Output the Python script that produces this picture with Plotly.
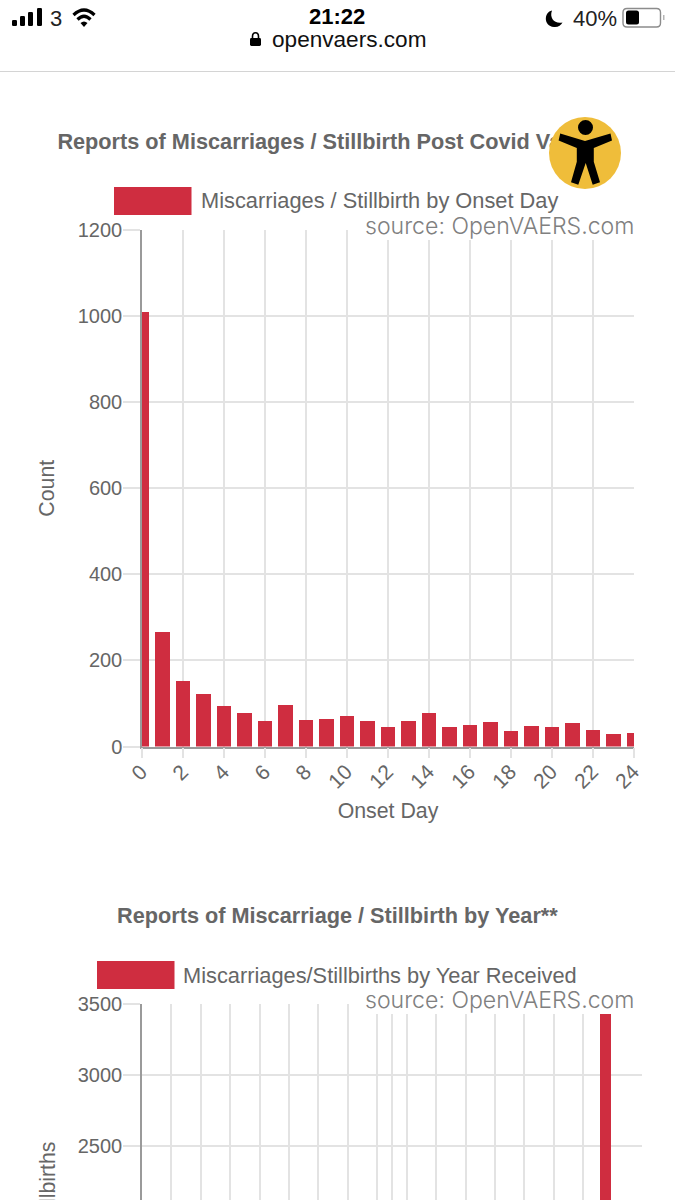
import plotly.graph_objects as go

# ---- data ----
onset_days = list(range(25))
onset_counts = [1010, 265, 152, 122, 94, 77, 60, 96, 62, 64, 70, 60, 46,
                60, 77, 46, 49, 56, 37, 48, 46, 54, 39, 30, 31]
onset_ticks = list(range(0, 25, 2))
count_ticks = [0, 200, 400, 600, 800, 1000, 1200]

# second chart: only the part above the page fold is visible
year_positions = [31.5]
year_counts = [3428]
year_grid = [0, 2, 4, 6, 8, 10, 12, 14, 16, 17, 18, 20, 22, 24, 26, 28, 30]
year_count_ticks = [2500, 3000, 3500]

title_one = "Reports of Miscarriages / Stillbirth Post Covid Vaccine"
title_two = "Reports of Miscarriage / Stillbirth by Year**"
legend_one = "Miscarriages / Stillbirth by Onset Day"
legend_two = "Miscarriages/Stillbirths by Year Received"
source_text = "source: OpenVAERS.com"

# ---- style ----
W, H = 675, 1200
RED = "#cf2d40"
GREY = "#666666"
GRID = "#e3e3e3"
AXIS = "#9a9a9a"
SANS = "Liberation Sans, Arial, sans-serif"
UI = "Liberation Sans, Arial, sans-serif"


def dx(a, b):
    return [a / W, b / W]


def dy(top, bottom):
    return [1 - bottom / H, 1 - top / H]


fig = go.Figure()
fig.add_bar(x=onset_days, y=onset_counts, width=0.72, xaxis="x", yaxis="y",
            marker=dict(color=RED, line=dict(width=0)), showlegend=False,
            hoverinfo="skip")
fig.add_bar(x=year_positions, y=year_counts, width=0.72, xaxis="x2", yaxis="y2",
            marker=dict(color=RED, line=dict(width=0)), showlegend=False,
            hoverinfo="skip")
# page-wide pixel layer; the first title sits here so the round badge covers it
fig.add_scatter(x=[337], y=[144], mode="text", text=[f"<b>{title_one}</b>"],
                textfont=dict(family=SANS, size=21.7, color=GREY),
                xaxis="x3", yaxis="y3", showlegend=False, hoverinfo="skip",
                cliponaxis=False)

common_y = dict(showgrid=True, gridcolor=GRID, gridwidth=1.6, showline=True,
                linecolor=AXIS, linewidth=1.5, zeroline=False, ticks="outside",
                ticklen=17, tickcolor=GRID, tickwidth=1.6, ticklabelstandoff=-3,
                tickfont=dict(family=SANS, size=20, color=GREY))

fig.update_layout(
    width=W, height=H, margin=dict(l=0, r=0, t=0, b=0, pad=0, autoexpand=False),
    paper_bgcolor="white", plot_bgcolor="rgba(0,0,0,0)", bargap=0,
    showlegend=False,
    xaxis=dict(domain=dx(142, 634), range=[0, 24], tickmode="array",
               tickvals=onset_ticks, tickangle=-45, showgrid=True,
               gridcolor=GRID, gridwidth=1.6, showline=True, linecolor=AXIS,
               linewidth=1.5, zeroline=False, ticks="outside", ticklen=10,
               tickcolor=GRID, tickwidth=1.6, anchor="y", ticklabelstandoff=-7,
               ticklabelshift=-1,
               tickfont=dict(family=SANS, size=21, color=GREY),
               title=dict(text="Onset Day", standoff=11,
                          font=dict(family=SANS, size=21.3, color=GREY))),
    yaxis=dict(domain=dy(230, 746.5), range=[0, 1200], tickmode="array",
               tickvals=count_ticks, anchor="x",
               title=dict(text="Count", standoff=17,
                          font=dict(family=SANS, size=21.3, color=GREY)),
               **common_y),
    xaxis2=dict(domain=dx(142, 642), range=[0, 34], tickmode="array",
                tickvals=year_grid, showticklabels=False, showgrid=True,
                gridcolor=GRID, gridwidth=1.6, zeroline=False, anchor="y2"),
    yaxis2=dict(domain=dy(1004, 1200), range=[2121, 3500], tickmode="array",
                tickvals=year_count_ticks, anchor="x2", **common_y),
    xaxis3=dict(domain=[0, 1], range=[0, W], visible=False, fixedrange=True,
                anchor="y3"),
    yaxis3=dict(domain=[0, 1], range=[H, 0], visible=False, fixedrange=True,
                anchor="x3"),
)


def shape(**kw):
    kw.setdefault("xref", "x3")
    kw.setdefault("yref", "y3")
    kw.setdefault("layer", "above")
    kw.setdefault("line_width", 0)
    fig.add_shape(**kw)


def rect(x0, y0, x1, y1, color):
    shape(type="rect", x0=x0, y0=y0, x1=x1, y1=y1, fillcolor=color)


def path(d, fill=None, line=None, width=0):
    kw = dict(type="path", path=d)
    if fill:
        kw["fillcolor"] = fill
    if line:
        kw["line_color"] = line
        kw["line_width"] = width
    shape(**kw)


def rounded(x0, y0, x1, y1, r):
    return (f"M{x0+r},{y0} L{x1-r},{y0} Q{x1},{y0} {x1},{y0+r} L{x1},{y1-r} "
            f"Q{x1},{y1} {x1-r},{y1} L{x0+r},{y1} Q{x0},{y1} {x0},{y1-r} "
            f"L{x0},{y0+r} Q{x0},{y0} {x0+r},{y0} Z")


# browser bar divider
rect(0, 71, W, 72, "#d4d4d4")

# signal bars
for bx0, bx1, btop in [(12, 17, 20), (20, 25, 16), (28, 33, 12), (37, 42, 8)]:
    path(rounded(bx0, btop, bx1, 26, 1.2), fill="#000000")

# wifi
path("M73.5,15 Q84,5 94.5,15", line="#000000", width=3.2)
path("M77.5,19.5 Q84,13 90.5,19.5", line="#000000", width=3.2)
path("M80.5,23 Q84,20 87.5,23 L84,27 Z", fill="#000000")

# lock
path(rounded(250, 38, 261, 46, 1.4), fill="#000000")
path("M252.5,38.5 L252.5,36.5 Q252.5,32.8 255.5,32.8 Q258.5,32.8 258.5,36.5 L258.5,38.5",
     line="#000000", width=1.6)

# moon
path("M552,10.5 C544,12 543,26 554,27 C558,27.5 561,25 562.5,22.5 C555,24.5 549,18 552,10.5 Z",
     fill="#000000")

# battery
path(rounded(623, 8.5, 660.5, 27, 4), line="#8c8c8c", width=1.4)
path(rounded(626, 10.5, 639, 24.5, 2.5), fill="#000000")
rect(663, 15, 664.5, 20, "#b5b5b5")

# masks behind the source stamps
rect(358, 215, 634.6, 240, "white")
rect(358, 989, 634.6, 1014, "white")

# legend swatches
rect(114, 187, 191.5, 215, RED)
rect(97, 961, 174.5, 989, RED)

# accessibility badge
shape(type="circle", x0=549, y0=117, x1=621, y1=189, fillcolor="#efbd3a")
shape(type="circle", x0=578, y0=120, x1=593, y1=135, fillcolor="#000000")
path("M560.2,133.6 L585,141 L610.5,133.6 L612,140.4 L593.8,148 L593.8,161.7 "
     "L600,182.3 L592.7,184.8 L585.7,163 L578.3,184.8 L571,182.3 "
     "L576.8,161.7 L576.8,148 L558.6,140.4 Z", fill="#000000")


def label(text, x, y, size, color=GREY, family=SANS, anchor="left", angle=0,
          yanchor="middle", weight=None):
    font = dict(family=family, size=size, color=color)
    if weight:
        font["weight"] = weight
    fig.add_annotation(text=text, x=x / W, y=1 - y / H, xref="paper", yref="paper",
                       xanchor=anchor, yanchor=yanchor, showarrow=False,
                       textangle=angle, font=font, borderpad=0)


label("3", 56, 18, 22, "#222222", UI, "center")
label("21:22", 337, 17, 22, "#000000", UI, "center", weight=700)
label("openvaers.com", 271, 39.5, 22.6, "#111111", UI)
label("40%", 572, 18, 22, "#222222", UI)

label(f"<b>{title_two}</b>", 337, 915, 21.7, anchor="center")
label(legend_one, 200, 201, 21.8)
label(legend_two, 182, 975, 21.8)
label(source_text, 364, 225.5, 23.1, "#808080", "Inter", weight=300)
label(source_text, 364, 999.5, 23.1, "#808080", "Inter", weight=300)
label("Miscarriages/Stillbirths", 47, 1141, 21.3, anchor="center", angle=-90,
      yanchor="top")

fig.write_html("out.html", config={"displayModeBar": False},
               post_script="document.body.style.margin='0';")
